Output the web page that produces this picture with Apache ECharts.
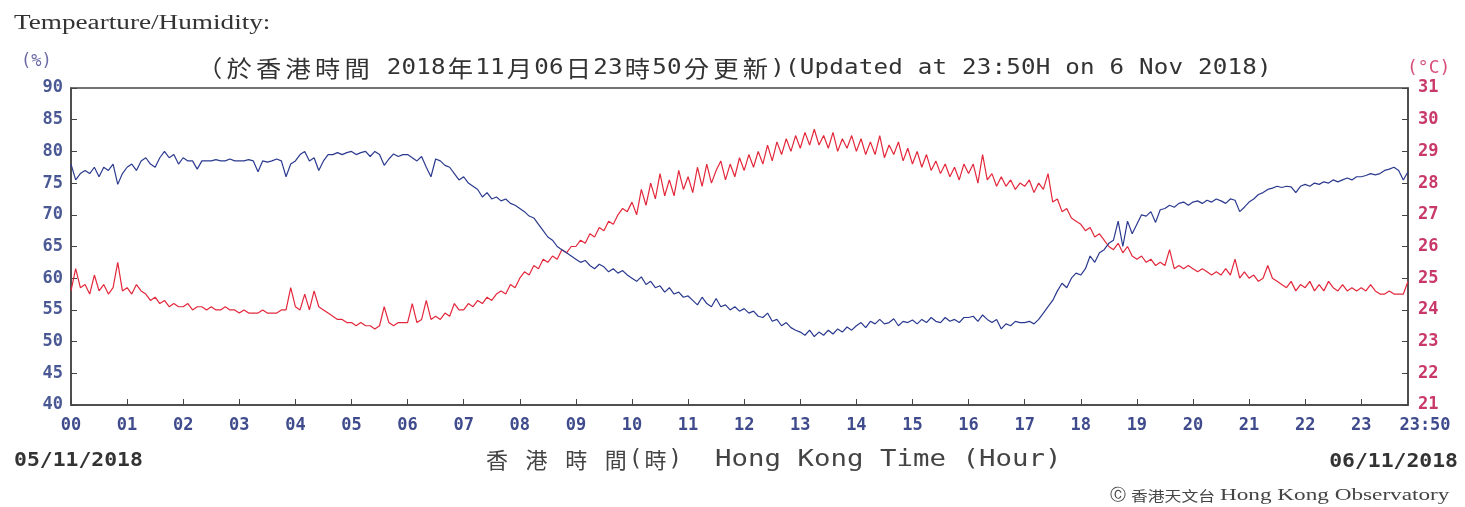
<!DOCTYPE html>
<html><head><meta charset="utf-8">
<script src="https://cdn.jsdelivr.net/npm/echarts@6/dist/echarts.min.js"></script>
<style>html,body{margin:0;padding:0;background:#fff}#c{width:1465px;height:507px}</style>
</head><body><div id="c"></div>
<script>
// Relative humidity (%), every 5 minutes from 00:00 to 23:50 on 6 Nov 2018 (one row per hour)
const humidity = [
78, 75.5, 76.5, 77, 76.5, 77.5, 76, 77.5, 77, 78, 74.8, 76.5,
77.5, 78, 77, 78.5, 79, 78, 77.5, 79, 80, 79, 79.5, 78,
79, 78.5, 78.5, 77.2, 78.5, 78.5, 78.5, 78.7, 78.5, 78.5, 78.8, 78.5,
78.5, 78.5, 78.7, 78.5, 76.8, 78.5, 78.3, 78.5, 78.8, 78.5, 76, 78,
78.5, 79.5, 80, 78.5, 79, 77, 78.5, 79.5, 79.5, 79.8, 79.5, 79.8,
80, 79.5, 79.8, 80, 79.2, 80, 79.5, 77.8, 78.8, 79.6, 79.2, 79.5,
79.5, 79, 78.5, 79.2, 77.5, 76, 78.8, 78.5, 77.8, 77.5, 76.5, 75.5,
76, 75, 74.5, 74, 72.8, 73.5, 72.5, 72.8, 72.2, 72.5, 71.8, 71.5,
71, 70.5, 69.8, 69.5, 68.5, 67.5, 66.5, 66, 65, 64.5, 64, 63.5,
63, 62.5, 62.8, 62, 61.5, 62.2, 61.8, 61, 61.5, 60.8, 61.2, 60.5,
60, 59.5, 60.2, 59, 59.5, 58.5, 58.8, 57.8, 58.5, 57.5, 57.8, 57,
57.2, 56.5, 55.8, 57, 56, 55.5, 56.8, 55.5, 55.8, 55, 55.5, 54.8,
55.2, 54.5, 54.8, 54, 53.8, 54.5, 53.2, 53.5, 52.5, 53, 52.2, 51.8,
51.5, 51, 51.8, 50.8, 51.5, 51, 51.8, 51.2, 52, 51.5, 52.3, 51.8,
52.5, 53, 52.2, 53.2, 52.8, 53.5, 52.8, 53, 53.6, 52.5, 53.2, 53,
53.4, 52.8, 53.5, 53, 53.8, 53.2, 53, 53.8, 53.2, 53.5, 53, 53.8,
53.8, 54, 53.2, 54.2, 53.5, 53, 53.5, 52, 52.8, 52.5, 53.2, 53,
53, 53.2, 52.8, 53.5, 54.5, 55.5, 56.5, 58, 59.2, 58.5, 60, 60.8,
60.5, 61.5, 63.5, 62.5, 64, 64.5, 65.5, 66, 69, 65, 69, 67,
68.5, 70, 69.8, 70.5, 68.8, 70.8, 71, 71.5, 71.2, 71.8, 72, 71.5,
72, 72.2, 71.8, 72.3, 72, 72.5, 72.2, 71.8, 72.5, 72.3, 70.5, 71.2,
72, 72.5, 73.2, 73.5, 74, 74.2, 74.5, 74.3, 74.5, 74.4, 73.5, 74.5,
74.8, 74.5, 75, 74.8, 75.2, 75, 75.5, 75.2, 75.5, 75.8, 75.5, 76,
76, 76.2, 76.5, 76.3, 76.5, 77, 77.2, 77.5, 77, 75.5, 76.8
];
// Temperature (°C), same times
const temperature = [
24.6, 25.3, 24.7, 24.8, 24.5, 25.1, 24.6, 24.8, 24.5, 24.7, 25.5, 24.6,
24.7, 24.5, 24.8, 24.6, 24.5, 24.3, 24.4, 24.2, 24.3, 24.1, 24.2, 24.1,
24.1, 24.2, 24.0, 24.1, 24.1, 24.0, 24.1, 24.0, 24.0, 24.1, 24.0, 24.0,
23.9, 24.0, 23.9, 23.9, 23.9, 24.0, 23.9, 23.9, 23.9, 24.0, 24.0, 24.7,
24.1, 24.0, 24.5, 24.0, 24.6, 24.1, 24.0, 23.9, 23.8, 23.7, 23.7, 23.6,
23.6, 23.5, 23.6, 23.5, 23.5, 23.4, 23.5, 24.1, 23.6, 23.5, 23.6, 23.6,
23.6, 24.2, 23.6, 23.7, 24.3, 23.7, 23.8, 23.7, 23.9, 23.8, 24.2, 24.0,
24.0, 24.2, 24.1, 24.3, 24.2, 24.4, 24.3, 24.5, 24.6, 24.5, 24.8, 24.7,
25.0, 25.2, 25.1, 25.4, 25.3, 25.6, 25.5, 25.7, 25.6, 25.9, 25.8, 26.0,
26.0, 26.2, 26.1, 26.4, 26.3, 26.6, 26.5, 26.8, 26.7, 27.0, 27.2, 27.1,
27.4, 27.0, 27.8, 27.3, 28.0, 27.5, 28.3, 27.6, 28.1, 27.6, 28.4, 27.8,
28.2, 27.7, 28.5, 27.9, 28.6, 28.0, 28.4, 28.7, 28.1, 28.6, 28.2, 28.8,
28.4, 28.9, 28.5, 29.0, 28.6, 29.2, 28.7, 29.3, 28.9, 29.4, 29.0, 29.5,
29.1, 29.6, 29.2, 29.7, 29.2, 29.5, 29.1, 29.6, 29.0, 29.4, 29.1, 29.5,
29.0, 29.4, 28.9, 29.3, 28.9, 29.5, 28.8, 29.2, 28.9, 29.3, 28.7, 29.1,
28.6, 29.0, 28.5, 28.9, 28.4, 28.7, 28.3, 28.6, 28.2, 28.5, 28.1, 28.6,
28.3, 28.6, 28.0, 28.9, 28.1, 28.3, 27.9, 28.2, 27.9, 28.1, 27.8, 28.0,
27.9, 28.1, 27.7, 28.0, 27.8, 28.3, 27.4, 27.5, 27.1, 27.2, 26.9, 26.8,
26.7, 26.5, 26.6, 26.3, 26.4, 26.2, 26.0, 25.9, 26.1, 25.8, 26.0, 25.7,
25.6, 25.7, 25.5, 25.6, 25.4, 25.5, 25.4, 25.9, 25.3, 25.4, 25.3, 25.4,
25.3, 25.2, 25.3, 25.2, 25.1, 25.2, 25.1, 25.3, 25.1, 25.6, 25.0, 25.2,
25.0, 25.1, 24.9, 25.0, 25.4, 25.0, 24.9, 24.8, 24.7, 24.9, 24.6, 24.8,
24.7, 24.9, 24.6, 24.8, 24.6, 24.9, 24.7, 24.6, 24.8, 24.6, 24.7, 24.6,
24.7, 24.6, 24.8, 24.6, 24.5, 24.5, 24.6, 24.5, 24.5, 24.5, 24.9
];
const humidityTicks = [40, 90, 5];
const tempTicks = [21, 31, 1];
const lastLabel = '23:50';

// time categories 00:00 ... 23:50 every 5 minutes
const times = [];
for (let h = 0; h < 24; h++) for (let m = 0; m < 60; m += 5) {
  const t = String(h).padStart(2,'0') + ':' + String(m).padStart(2,'0');
  times.push(t);
  if (t === lastLabel) break;
}
const last = times.length - 1;

const mono = "'DejaVu Sans Mono', 'Noto Sans CJK TC', monospace";
const cjk = "'Noto Sans CJK TC'";

// lay out a string on a fixed character grid (wide chars take two cells)
function gridText(str, x0, y, cell, font, cjkFont, fill, sx) {
  const out = [];
  let pos = 0;
  for (const ch of str) {
    const wide = /[^\x00-\x7f]/.test(ch);
    const w = wide ? 2 : 1;
    if (ch !== ' ') {
      out.push({type: 'text', x: x0 + pos * cell + w * cell / 2, y: y, scaleX: sx,
        style: {text: ch, font: wide ? cjkFont : font, fill: fill, textAlign: 'center', textVerticalAlign: 'middle'}});
    }
    pos += w;
  }
  return out;
}

const graphics = [
  {type: 'text', x: 14, y: 24, scaleX: 1.36, style: {text: 'Tempearture/Humidity:', font: "20px 'Liberation Serif'", fill: '#333', textVerticalAlign: 'middle'}},
  {type: 'text', x: 21, y: 62, style: {text: '(%)', font: "17px 'DejaVu Sans Mono'", fill: '#6b6ba6', textVerticalAlign: 'middle'}},
  {type: 'text', x: 1407, y: 68, style: {text: '(°C)', font: "18px 'DejaVu Sans Mono'", fill: '#d8507a', textVerticalAlign: 'middle'}},
  {type: 'text', x: 14, y: 461, scaleX: 1.07, style: {text: '05/11/2018', font: "bold 20px 'DejaVu Sans Mono'", fill: '#333', textVerticalAlign: 'middle'}},
  {type: 'text', x: 1458, y: 462, scaleX: 1.07, style: {text: '06/11/2018', font: "bold 20px 'DejaVu Sans Mono'", fill: '#333', textAlign: 'right', textVerticalAlign: 'middle'}},
  {type: 'text', x: 1110, y: 496, style: {text: 'Ⓒ', font: "16px 'DejaVu Sans'", fill: '#444', textVerticalAlign: 'middle'}},
  {type: 'text', x: 1131, y: 496, scaleX: 1.2, style: {text: '香港天文台', font: "14px " + cjk, fill: '#444', textVerticalAlign: 'middle'}},
  {type: 'text', x: 1220, y: 496, scaleX: 1.45, style: {text: 'Hong Kong Observatory', font: "16px 'Liberation Serif'", fill: '#444', textVerticalAlign: 'middle'}}
]
.concat(gridText('（於香港時間 2018年11月06日23時50分更新)(Updated at 23:50H on 6 Nov 2018)', 195, 68, 14.75,
  "22px 'DejaVu Sans Mono'", "23px " + cjk, '#333', 1.1))
.concat(gridText('香 港 時 間(時)', 483.8, 460, 13.2, "23px 'DejaVu Sans Mono'", "22px " + cjk, '#444', 1))
.concat(gridText('Hong Kong Time (Hour)', 715, 460, 16.5, "23px 'DejaVu Sans Mono'", "22px " + cjk, '#444', 1.19));

const chart = echarts.init(document.getElementById('c'), null, {renderer: 'canvas'});
chart.setOption({
  animation: false,
  backgroundColor: '#fff',
  grid: {left: 71, right: 57, top: 88, bottom: 102, show: true, borderColor: '#444', borderWidth: 1.5},
  xAxis: {
    type: 'category', data: times, boundaryGap: false,
    axisLine: {lineStyle: {color: '#444', width: 1.5}},
    axisTick: {inside: true, length: 6, interval: (i) => i % 12 === 0, lineStyle: {color: '#444'}},
    axisLabel: {
      interval: (i) => i % 12 === 0 || i === last,
      formatter: (v, i) => i === last ? '{e|' + v + '}' : v.slice(0, 2),
      color: '#3f4b8c', fontFamily: mono, fontWeight: 'bold', fontSize: 17, margin: 12,
      rich: {e: {color: '#3f4b8c', fontFamily: mono, fontWeight: 'bold', fontSize: 17, padding: [0, 0, 0, 34]}}
    },
    splitLine: {show: false}
  },
  yAxis: [
    {type: 'value', min: humidityTicks[0], max: humidityTicks[1], interval: humidityTicks[2], position: 'left',
     axisLine: {show: true, lineStyle: {color: '#444', width: 1.5}},
     axisTick: {show: true, inside: true, length: 6, lineStyle: {color: '#444'}},
     axisLabel: {color: '#4a5894', fontFamily: mono, fontWeight: 'bold', fontSize: 17, margin: 8},
     splitLine: {show: false}},
    {type: 'value', min: tempTicks[0], max: tempTicks[1], interval: tempTicks[2], position: 'right',
     axisLine: {show: true, lineStyle: {color: '#444', width: 1.5}},
     axisTick: {show: true, inside: true, length: 6, lineStyle: {color: '#444'}},
     axisLabel: {color: '#c8386a', fontFamily: mono, fontWeight: 'bold', fontSize: 17, margin: 10, padding: [12, 0, 0, 0]},
     splitLine: {show: false}}
  ],
  series: [
    {name: 'Temperature', type: 'line', yAxisIndex: 1, data: temperature, showSymbol: false,
     lineStyle: {color: '#e3283c', width: 1.2}, itemStyle: {color: '#e3283c'}},
    {name: 'Humidity', type: 'line', yAxisIndex: 0, data: humidity, showSymbol: false,
     lineStyle: {color: '#2b3a8f', width: 1.2}, itemStyle: {color: '#2b3a8f'}}
  ],
  graphic: graphics
});
</script>
</body></html>
